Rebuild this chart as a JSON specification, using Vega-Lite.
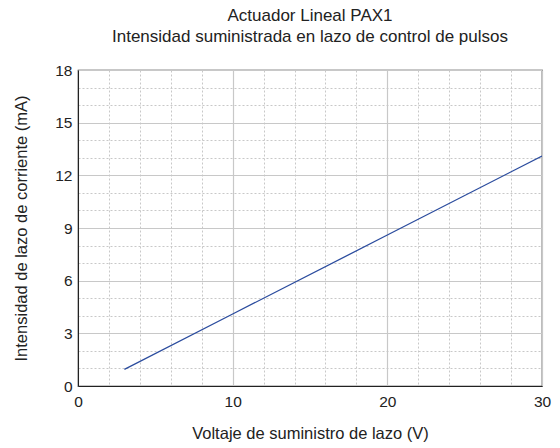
{
  "$schema": "https://vega.github.io/schema/vega-lite/v6.json",
  "width": 464,
  "height": 316,
  "autosize": "none",
  "padding": {"left": 78, "top": 70, "right": 18, "bottom": 62},
  "background": "white",
  "title": {
    "text": ["Actuador Lineal PAX1", "Intensidad suministrada en lazo de control de pulsos"],
    "font": "Liberation Sans",
    "fontSize": 17,
    "fontWeight": "normal",
    "color": "#222222",
    "anchor": "middle",
    "offset": 17,
    "lineHeight": 21
  },
  "config": {
    "view": {"stroke": "#222222", "strokeWidth": 1.2},
    "font": "Liberation Sans"
  },
  "data": {
    "values": [
      {"V": 3, "I": 0.95},
      {"V": 10, "I": 4.1},
      {"V": 20, "I": 8.6},
      {"V": 30, "I": 13.1}
    ]
  },
  "mark": {"type": "line", "color": "#2b4c9e", "strokeWidth": 1.3, "clip": true},
  "encoding": {
    "x": {
      "field": "V",
      "type": "quantitative",
      "scale": {"domain": [0, 30], "nice": false, "zero": false},
      "axis": {
        "title": "Voltaje de suministro de lazo (V)",
        "titleFont": "Liberation Sans",
        "titleFontSize": 16.5,
        "titleFontWeight": "normal",
        "titleColor": "#222222",
        "titlePadding": 16,
        "values": [0, 2, 4, 6, 8, 10, 12, 14, 16, 18, 20, 22, 24, 26, 28, 30],
        "labelExpr": "datum.value % 10 === 0 ? datum.label : ''",
        "labelFont": "Liberation Sans",
        "labelFontSize": 15.5,
        "labelColor": "#222222",
        "labelPadding": 8,
        "labelFlush": false,
        "labelOverlap": false,
        "ticks": false,
        "domainColor": "#222222",
        "grid": true,
        "gridColor": {"condition": {"test": "datum.value % 10 === 0", "value": "#c8c8c8"}, "value": "#c8c8c8"},
        "gridDash": {"condition": {"test": "datum.value % 10 === 0", "value": []}, "value": [2, 2]},
        "gridWidth": {"condition": {"test": "datum.value % 10 === 0", "value": 1.2}, "value": 1}
      }
    },
    "y": {
      "field": "I",
      "type": "quantitative",
      "scale": {"domain": [0, 18], "nice": false, "zero": false},
      "axis": {
        "title": "Intensidad de lazo de corriente (mA)",
        "titleFont": "Liberation Sans",
        "titleFontSize": 16.5,
        "titleFontWeight": "normal",
        "titleColor": "#222222",
        "titlePadding": 25,
        "values": [0, 1, 2, 3, 4, 5, 6, 7, 8, 9, 10, 11, 12, 13, 14, 15, 16, 17, 18],
        "labelExpr": "datum.value % 3 === 0 ? datum.label : ''",
        "labelFont": "Liberation Sans",
        "labelFontSize": 15.5,
        "labelColor": "#222222",
        "labelPadding": 6,
        "labelFlush": false,
        "labelOverlap": false,
        "ticks": false,
        "domainColor": "#222222",
        "grid": true,
        "gridColor": {"condition": {"test": "datum.value % 3 === 0", "value": "#c8c8c8"}, "value": "#c8c8c8"},
        "gridDash": {"condition": {"test": "datum.value % 3 === 0", "value": []}, "value": [2, 2]},
        "gridWidth": {"condition": {"test": "datum.value % 3 === 0", "value": 1.2}, "value": 1}
      }
    }
  }
}
